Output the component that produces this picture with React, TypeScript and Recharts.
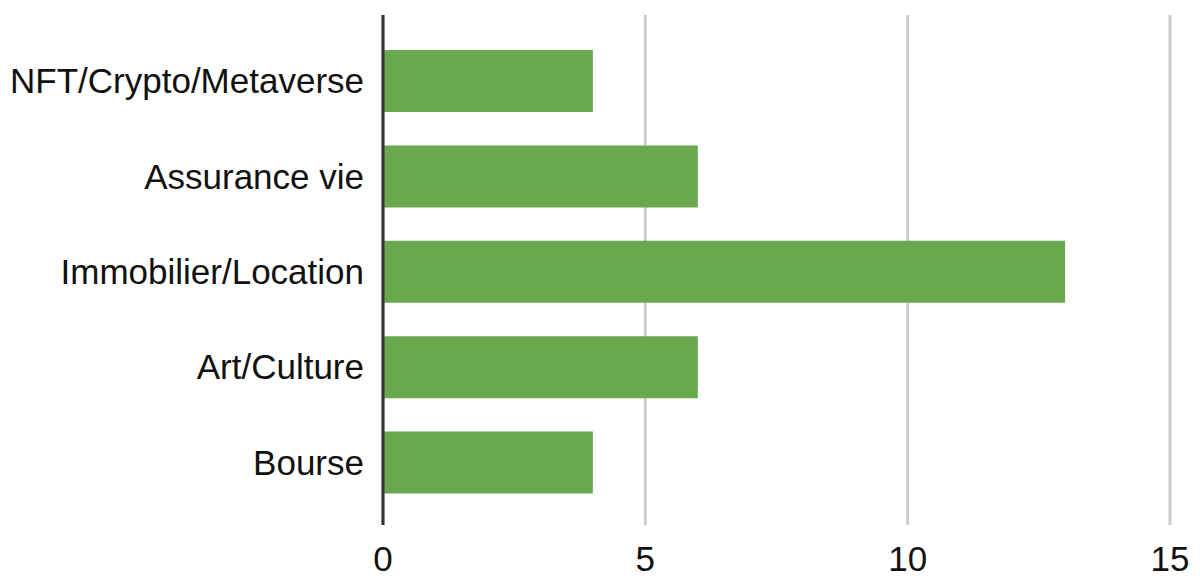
import React from 'react';
import { BarChart, Bar, XAxis, YAxis, CartesianGrid } from 'recharts';

const categories = ['NFT/Crypto/Metaverse', 'Assurance vie', 'Immobilier/Location', 'Art/Culture', 'Bourse'];
const counts = [4, 6, 13, 6, 4];
const xTicks = [0, 5, 10, 15];

const data = categories.map((name, i) => ({ name, value: counts[i] }));

const font = "'Liberation Sans', Arial, sans-serif";

export default function App() {
  return (
    <div style={{ position: 'absolute', left: 0, top: 0, background: '#fff' }}>
      <BarChart
        width={1200}
        height={579}
        layout="vertical"
        data={data}
        margin={{ top: 15, right: 30, left: 0, bottom: 0 }}
      >
        <CartesianGrid horizontal={false} stroke="#cccccc" strokeWidth={3} />
        <XAxis
          type="number"
          domain={[0, 15]}
          ticks={xTicks}
          axisLine={false}
          tickLine={false}
          tickSize={0}
          tickMargin={21}
          height={54}
          tick={{ fill: '#111', fontSize: 35, fontFamily: font }}
        />
        <YAxis
          type="category"
          dataKey="name"
          width={383}
          padding={{ top: 18, bottom: 15 }}
          axisLine={{ stroke: '#333333', strokeWidth: 3 }}
          tickLine={false}
          tickSize={0}
          tickMargin={19}
          tick={{ fill: '#111', fontSize: 35, fontFamily: font }}
        />
        <Bar dataKey="value" fill="#6aa84f" barSize={62} isAnimationActive={false} />
      </BarChart>
    </div>
  );
}
